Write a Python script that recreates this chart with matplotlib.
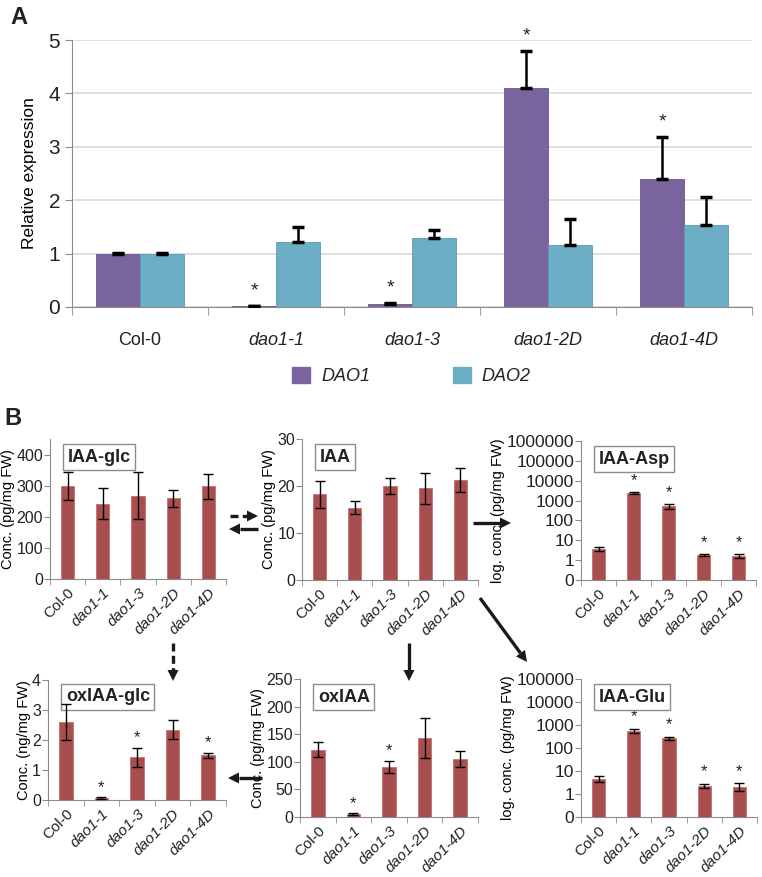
import numpy as np
import matplotlib
matplotlib.use('Agg')
import matplotlib.pyplot as plt
from matplotlib.lines import Line2D
from matplotlib.patches import Polygon
from matplotlib.ticker import FixedLocator, FixedFormatter

plt.rcParams['font.family'] = ['Liberation Sans', 'DejaVu Sans']
plt.rcParams['text.color'] = '#222222'
plt.rcParams['xtick.labelcolor'] = '#222222'
plt.rcParams['ytick.labelcolor'] = '#222222'

# ---- data ----
lines = ['Col-0', 'dao1-1', 'dao1-3', 'dao1-2D', 'dao1-4D']

dao1 = [1.0, 0.01, 0.06, 4.1, 2.4]
dao1_err = [0.02, 0.01, 0.02, 0.69, 0.79]
dao2 = [1.0, 1.22, 1.30, 1.17, 1.53]
dao2_err = [0.02, 0.28, 0.14, 0.47, 0.53]
dao1_sig = [False, True, True, True, True]

iaa_glc = [300, 242, 268, 259, 298]
iaa_glc_err = [45, 50, 75, 27, 40]
iaa = [18.2, 15.4, 20.0, 19.5, 21.3]
iaa_err = [2.8, 1.4, 1.7, 3.3, 2.5]
iaa_asp = [3.7, 2500, 520, 1.8, 1.7]
iaa_asp_err = [0.8, 300, 150, 0.2, 0.4]
iaa_asp_sig = [False, True, True, True, True]
oxiaa_glc = [2.6, 0.07, 1.42, 2.35, 1.49]
oxiaa_glc_err = [0.61, 0.02, 0.32, 0.32, 0.09]
oxiaa_glc_sig = [False, True, True, False, True]
oxiaa = [122, 5, 91, 143, 105]
oxiaa_err = [14, 1.5, 11, 37, 14]
oxiaa_sig = [False, True, True, False, False]
iaa_glu = [4.6, 560, 260, 2.3, 2.1]
iaa_glu_err = [1.2, 90, 40, 0.5, 0.8]
iaa_glu_sig = [False, True, True, True, True]

purple = '#7A64A0'
blue = '#6BAEC6'
red = '#A84E4E'
grey = '#8C8C8C'

W, H = 762, 877
fig = plt.figure(figsize=(W / 100, H / 100), dpi=100)


def px_axes(l, r, t, b):
    return fig.add_axes([l / W, 1 - b / H, (r - l) / W, (b - t) / H])


# ---- panel A ----
axA = px_axes(72, 752, 40, 307)
x = np.arange(len(lines))
bw = 0.32
axA.bar(x - bw / 2, dao1, bw, color=purple, edgecolor='#6A5590', linewidth=0.6, zorder=3)
axA.bar(x + bw / 2, dao2, bw, color=blue, edgecolor='#5A9AB2', linewidth=0.6, zorder=3)
axA.errorbar(x - bw / 2, dao1, yerr=[np.zeros(5), dao1_err], fmt='none', ecolor='black',
             elinewidth=1.8, capsize=4, capthick=2.5, zorder=4)
axA.errorbar(x + bw / 2, dao2, yerr=[np.zeros(5), dao2_err], fmt='none', ecolor='black',
             elinewidth=1.8, capsize=4, capthick=2.5, zorder=4)
for i, s in enumerate(dao1_sig):
    if s:
        top = dao1[i] + dao1_err[i]
        axA.text(i - bw / 2, top + 0.12, '*', ha='center', va='bottom', fontsize=14)
axA.set_xlim(-0.5, 4.5)
axA.set_ylim(0, 5)
axA.set_yticks(range(6))
axA.yaxis.grid(True, color='#D9D9D9', linewidth=1.2, zorder=0)
axA.set_axisbelow(True)
axA.set_xticks(x)
axA.set_xticklabels(lines, fontsize=13)
for lab in axA.get_xticklabels()[1:]:
    lab.set_style('italic')
axA.xaxis.set_minor_locator(FixedLocator(np.arange(-0.5, 5, 1)))
axA.tick_params(axis='x', which='major', length=0, pad=18)
axA.tick_params(axis='x', which='minor', length=6, color=grey)
axA.tick_params(axis='y', length=5, color=grey, labelsize=15)
axA.set_ylabel('Relative expression', fontsize=12.5, labelpad=8)
for s in ['top', 'right']:
    axA.spines[s].set_visible(False)
for s in ['left', 'bottom']:
    axA.spines[s].set_color(grey)

h1 = plt.Rectangle((0, 0), 1, 1, color=purple)
h2 = plt.Rectangle((0, 0), 1, 1, color=blue)
fig.legend([h1, h2], ['DAO1', 'DAO2'], loc='center', bbox_to_anchor=(0.54, 1 - 376 / H),
           ncol=2, frameon=False, columnspacing=4.6, handlelength=1.0, handleheight=1.0,
           handletextpad=0.6, prop={'size': 13, 'style': 'italic'})

fig.text(10 / W, 1 - 18 / H, 'A', fontsize=17, fontweight='bold', va='center')
fig.text(4 / W, 1 - 418 / H, 'B', fontsize=17, fontweight='bold', va='center')


# ---- panel B ----
def small_panel(rect, vals, errs, title, ylabel, sig=None, log=False, ylim=None, ticks=None):
    ax = px_axes(*rect)
    xb = np.arange(5)
    ax.bar(xb, vals, 0.38, color=red, edgecolor='#C27070', linewidth=0.6, zorder=3)
    ax.errorbar(xb, vals, yerr=errs, fmt='none', ecolor='black', elinewidth=1.0,
                capsize=3.5, capthick=1.0, zorder=4)
    if log:
        ax.set_yscale('log')
        ax.set_ylim(ylim)
        ax.yaxis.set_major_locator(FixedLocator(ticks))
        labels = ['0'] + [str(int(t)) for t in ticks[1:]]
        ax.yaxis.set_major_formatter(FixedFormatter(labels))
        ax.yaxis.set_minor_locator(FixedLocator([]))
    else:
        ax.set_ylim(ylim)
        ax.set_yticks(ticks)
    if sig is not None:
        for i, s in enumerate(sig):
            if s:
                top = vals[i] + errs[i]
                if log:
                    ax.text(i, top * 1.6, '*', ha='center', va='bottom', fontsize=12)
                else:
                    ax.text(i, top + (ylim[1] - ylim[0]) * 0.02, '*', ha='center',
                            va='bottom', fontsize=12)
    ax.set_xlim(-0.5, 4.5)
    ax.set_xticks(xb)
    ax.set_xticklabels(lines, rotation=45, ha='right', rotation_mode='anchor', fontsize=11)
    for lab in ax.get_xticklabels()[1:]:
        lab.set_style('italic')
    ax.xaxis.set_minor_locator(FixedLocator(np.arange(-0.5, 5, 1)))
    ax.tick_params(axis='x', which='major', length=0, pad=5)
    ax.tick_params(axis='x', which='minor', length=4, color=grey)
    ax.tick_params(axis='y', length=4, color=grey, labelsize=11.5 if not log else 12.5, pad=1)
    ax.set_ylabel(ylabel, fontsize=10.5, labelpad=1 if not log else 1)
    for s in ['top', 'right']:
        ax.spines[s].set_visible(False)
    for s in ['left', 'bottom']:
        ax.spines[s].set_color(grey)
    ax.text(0.1, 0.93, title, transform=ax.transAxes, fontsize=13, fontweight='bold',
            va='top', ha='left',
            bbox=dict(boxstyle='square,pad=0.25', facecolor='white', edgecolor=grey, linewidth=1))
    return ax


small_panel((50, 226, 439, 579), iaa_glc, iaa_glc_err, 'IAA-glc', 'Conc. (pg/mg FW)',
            ylim=(0, 450), ticks=[0, 100, 200, 300, 400])
small_panel((302, 478, 439, 580), iaa, iaa_err, 'IAA', 'Conc. (pg/mg FW)',
            ylim=(0, 30), ticks=[0, 10, 20, 30])
small_panel((581, 756, 441, 580), iaa_asp, iaa_asp_err, 'IAA-Asp', 'log. conc. (pg/mg FW)',
            sig=iaa_asp_sig, log=True, ylim=(0.1, 1e6),
            ticks=[0.1, 1, 10, 100, 1000, 10000, 100000, 1000000])
small_panel((48, 226, 680, 800), oxiaa_glc, oxiaa_glc_err, 'oxIAA-glc', 'Conc. (ng/mg FW)',
            sig=oxiaa_glc_sig, ylim=(0, 4), ticks=[0, 1, 2, 3, 4])
small_panel((300, 478, 679, 817), oxiaa, oxiaa_err, 'oxIAA', 'Conc. (pg/mg FW)',
            sig=oxiaa_sig, ylim=(0, 250), ticks=[0, 50, 100, 150, 200, 250])
small_panel((581, 757, 679, 817), iaa_glu, iaa_glu_err, 'IAA-Glu', 'log. conc. (pg/mg FW)',
            sig=iaa_glu_sig, log=True, ylim=(0.1, 1e5),
            ticks=[0.1, 1, 10, 100, 1000, 10000, 100000])


# ---- pathway arrows (pixel coordinates of the figure) ----
def arrow(x0, y0, x1, y1, dashed=False, head_len=11, head_w=11):
    d = np.array([x1 - x0, y1 - y0], dtype=float)
    n = d / np.hypot(*d)
    p = np.array([-n[1], n[0]])
    base = np.array([x1, y1]) - n * head_len
    lx = [x0 / W, base[0] / W]
    ly = [1 - y0 / H, 1 - base[1] / H]
    fig.add_artist(Line2D(lx, ly, transform=fig.transFigure, color='#1A1A1A', linewidth=2.4,
                          linestyle=(0, (2.4, 1.3)) if dashed else '-', solid_capstyle='butt',
                          dash_capstyle='butt'))
    pts = [np.array([x1, y1]), base + p * head_w / 2, base - p * head_w / 2]
    fig.add_artist(Polygon([(q[0] / W, 1 - q[1] / H) for q in pts], closed=True,
                           transform=fig.transFigure, facecolor='#1A1A1A', edgecolor='none'))


arrow(230, 516, 258, 516, dashed=True)
arrow(258, 529, 229, 529)
arrow(473, 523, 511, 523)
arrow(173, 643, 173, 681, dashed=True)
arrow(409, 643, 409, 681)
arrow(480, 598, 527, 662)
arrow(262, 778, 228, 778)

fig.savefig('out.png', dpi=100)
